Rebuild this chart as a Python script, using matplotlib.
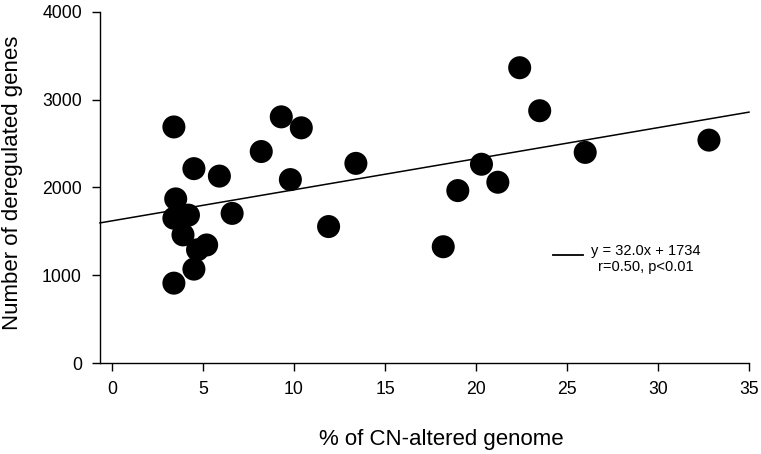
import matplotlib
matplotlib.use("Agg")
import matplotlib.pyplot as plt
import numpy as np

plt.rcParams['font.family'] = ['Liberation Sans', 'DejaVu Sans']

# Data
cn_altered = [3.4, 9.3, 10.4, 8.2, 13.4, 4.5, 5.9, 9.8, 3.5, 3.4, 4.2, 3.9, 6.6,
              11.9, 5.2, 4.7, 4.5, 3.4, 18.2, 19.0, 20.3, 21.2, 22.4, 23.5, 26.0, 32.8]
dereg_genes = [2690, 2805, 2680, 2410, 2275, 2215, 2130, 2090, 1870, 1650, 1685, 1460, 1705,
               1555, 1345, 1290, 1070, 910, 1325, 1965, 2265, 2060, 3365, 2875, 2400, 2540]
fit_slope = 35.4
fit_intercept = 1620
x_ticks = [0, 5, 10, 15, 20, 25, 30, 35]
y_ticks = [0, 1000, 2000, 3000, 4000]
eq_text = "y = 32.0x + 1734"
stat_text = "r=0.50, p<0.01"

W, H = 761, 454
fig = plt.figure(figsize=(W / 100, H / 100), dpi=100)
ax = fig.add_axes([100 / W, (H - 363) / H, (749 - 100) / W, (363 - 12) / H])

xmin, xmax = -0.66, 35
ax.set_xlim(xmin, xmax)
ax.set_ylim(0, 4000)

xl = np.array([xmin, xmax])
ax.plot(xl, fit_intercept + fit_slope * xl, color='black', lw=1.1, zorder=2, clip_on=False)
ax.scatter(cn_altered, dereg_genes, s=275, color='black', edgecolors='none', zorder=3)

for side in ['top', 'right']:
    ax.spines[side].set_visible(False)
for side in ['left', 'bottom']:
    ax.spines[side].set_linewidth(1.0)

ax.set_xticks(x_ticks)
ax.set_yticks(y_ticks)
ax.tick_params(axis='both', direction='out', length=6, width=1.0, labelsize=12.7, pad=7)

ax.set_ylabel("Number of deregulated genes", fontsize=16)
ax.yaxis.set_label_coords(-0.1186, 0.514)
fig.text(441 / W, 1 - 439 / H, "% of CN-altered genome", fontsize=16, ha='center', va='center')

ax.plot([0.698, 0.744], [0.308, 0.308], color='black', lw=1.3, transform=ax.transAxes)
ax.text(0.7565, 0.319, eq_text, fontsize=10.5, transform=ax.transAxes, ha='left', va='center')
ax.text(0.767, 0.2735, stat_text, fontsize=10.5, transform=ax.transAxes, ha='left', va='center')

fig.savefig("out.png", dpi=100)
